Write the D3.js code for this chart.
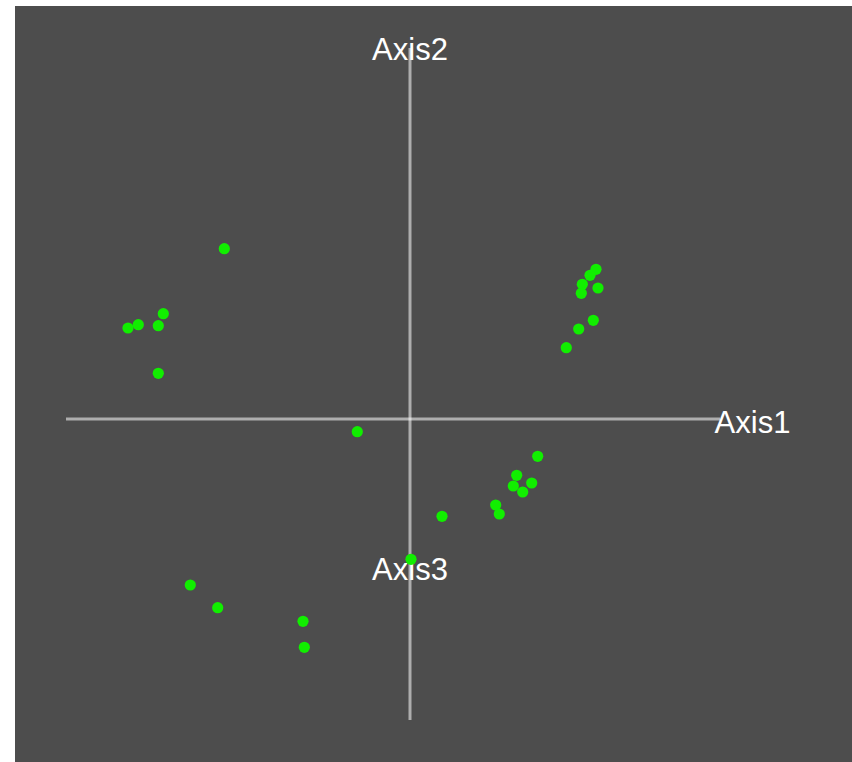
<!DOCTYPE html>
<html>
<head>
<meta charset="utf-8">
<script src="https://cdn.jsdelivr.net/npm/d3@7"></script>
<style>
  html, body { margin: 0; padding: 0; background: #ffffff; }
  svg { display: block; }
</style>
</head>
<body>
<svg id="chart" width="852" height="762"></svg>
<script>
// Projected coordinates of each point on Axis1 (horizontal) and Axis2 (vertical)
const axis1Values = [-1.857, -2.467, -2.717, -2.82, -2.517, -2.517,
  1.86, 1.80, 1.723, 1.713, 1.88, 1.833, 1.687, 1.563,
  1.277, 1.067, 1.033, 1.127, 1.217, 0.857, 0.893, 0.32,
  -2.197, -1.923, -1.07, -1.057, -0.527, 0.01];
const axis2Values = [1.703, 1.053, 0.943, 0.91, 0.933, 0.457,
  1.497, 1.437, 1.347, 1.257, 1.31, 0.987, 0.90, 0.713,
  -0.373, -0.563, -0.67, -0.73, -0.64, -0.86, -0.95, -0.973,
  -1.66, -1.887, -2.023, -2.283, -0.127, -1.403];

// Axis segments (data units) and labels
const axisNames = ["Axis1", "Axis2", "Axis3"];
const axisSegments = [
  { x1: -3.44, y1: 0, x2: 3.10, y2: 0 },
  { x1: 0, y1: 3.71, x2: 0, y2: 0 },
  { x1: 0, y1: 0, x2: 0, y2: -3.01 }
];
const labelPositions = [
  { x: 3.425, y: -0.14 },
  { x: 0, y: 3.59 },
  { x: 0, y: -1.61 }
];

const W = 852, H = 762;
const svg = d3.select("#chart");

const x = d3.scaleLinear().domain([-4, 4]).range([10, 810]);
const y = d3.scaleLinear().domain([-4, 4]).range([819, 19]);

svg.append("rect")
  .attr("x", 15).attr("y", 6)
  .attr("width", W - 15).attr("height", H - 6)
  .attr("fill", "#4d4d4d");

svg.append("g").selectAll("line")
  .data(axisSegments)
  .join("line")
  .attr("x1", d => x(d.x1)).attr("y1", d => y(d.y1))
  .attr("x2", d => x(d.x2)).attr("y2", d => y(d.y2))
  .attr("stroke", "rgba(255,255,255,0.55)")
  .attr("stroke-width", 3);

const points = axis1Values.map((v, i) => ({ a: v, b: axis2Values[i] }));

svg.append("g").selectAll("text")
  .data(axisNames)
  .join("text")
  .attr("x", (d, i) => x(labelPositions[i].x))
  .attr("y", (d, i) => y(labelPositions[i].y))
  .attr("text-anchor", "middle")
  .attr("font-family", "'Liberation Sans', Arial, sans-serif")
  .attr("font-size", 31)
  .attr("fill", "#ffffff")
  .text(d => d);

svg.append("g").selectAll("circle")
  .data(points)
  .join("circle")
  .attr("cx", d => x(d.a))
  .attr("cy", d => y(d.b))
  .attr("r", 5.6)
  .attr("fill", "#11ee00");
</script>
</body>
</html>
